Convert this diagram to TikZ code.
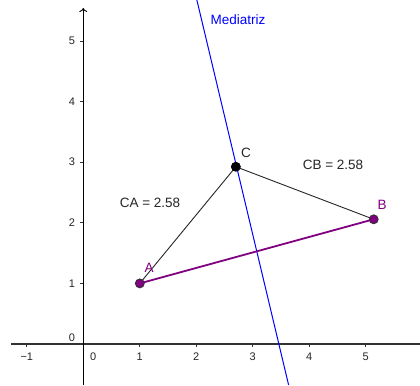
\documentclass[tikz,border=0pt]{standalone}
\usepackage{fontspec}
\setmainfont{Liberation Sans}
\usetikzlibrary{arrows.meta}
\definecolor{ggpurple}{RGB}{128,0,128}
\definecolor{ggaxis}{RGB}{50,50,50}
\begin{document}
\begin{tikzpicture}[x=56.5pt,y=60.6pt,
  lbl/.style={font=\fontsize{13.5}{15}\selectfont, inner sep=0pt},
  ticklbl/.style={font=\fontsize{11}{12}\selectfont, inner sep=0pt, text=black!85},
  ptA/.style={circle, inner sep=0pt, minimum size=9pt, fill=ggpurple, draw=black!80, line width=0.8pt},
  ptC/.style={circle, inner sep=0pt, minimum size=9pt, fill=black, draw=black, line width=0.8pt},
  seg/.style={draw=black!85, line width=0.9pt},
  segAB/.style={draw=ggpurple, line width=1.8pt},
  medline/.style={draw=blue, line width=1pt},
  tick/.style={line width=0.8pt, draw=ggaxis}]
\useasboundingbox[fill=white] (-1.4743,-0.6766) rectangle (5.9593,5.6766);
% axes
\coordinate (xl) at (-1.28,0);
\coordinate (xr) at (5.96,0);
\coordinate (yb) at (0,-0.6766);
\coordinate (yt) at (0,5.545);
\draw[line width=2pt, draw=ggaxis] (xl) -- (xr);
\draw[line width=0.9pt, -{To[length=4pt,width=8pt]}] (yb) -- (yt);
% ticks
\foreach \i in {-1,1,2,3,4,5} {
  \draw[tick] (\i,0) -- ++(0,-3pt);
  \node[ticklbl] at (\i,-0.2145) {\ifnum\i<0 −1\else\i\fi};
}
\node[ticklbl] at (0.177,-0.2145) {0};
\foreach \j in {1,2,3,4,5} {
  \draw[tick] (0,\j) -- ++(-3pt,0);
  \node[ticklbl] at (-0.2,\j) {\j};
}
\node[ticklbl] at (-0.2,0.099) {0};
% perpendicular bisector
\coordinate (m1) at (2.01,5.6766);
\coordinate (m2) at (3.634,-0.6766);
\draw[medline] (m1) -- (m2);
\node[lbl, text=blue] (med) at (2.738,5.347) {Mediatriz};
% points
\coordinate (Ap) at (1,1);
\coordinate (Bp) at (5.14,2.058);
\coordinate (Cp) at (2.70,2.925);
\draw[seg] (Cp) -- (Ap);
\draw[seg] (Cp) -- (Bp);
\draw[segAB] (Ap) -- (Bp);
\node[ptA] (A) at (Ap) {};
\node[ptA] (B) at (Bp) {};
\node[ptC] (C) at (Cp) {};
% labels
\node[lbl, text=ggpurple] (la) at (1.163,1.255) {A};
\node[lbl, text=ggpurple] (lb) at (5.287,2.294) {B};
\node[lbl, text=black!85] (lc) at (2.880,3.152) {C};
\node[lbl, text=black!85] (lca) at (1.181,2.327) {CA = 2.58};
\node[lbl, text=black!85] (lcb) at (4.419,2.954) {CB = 2.58};
\end{tikzpicture}
\end{document}
